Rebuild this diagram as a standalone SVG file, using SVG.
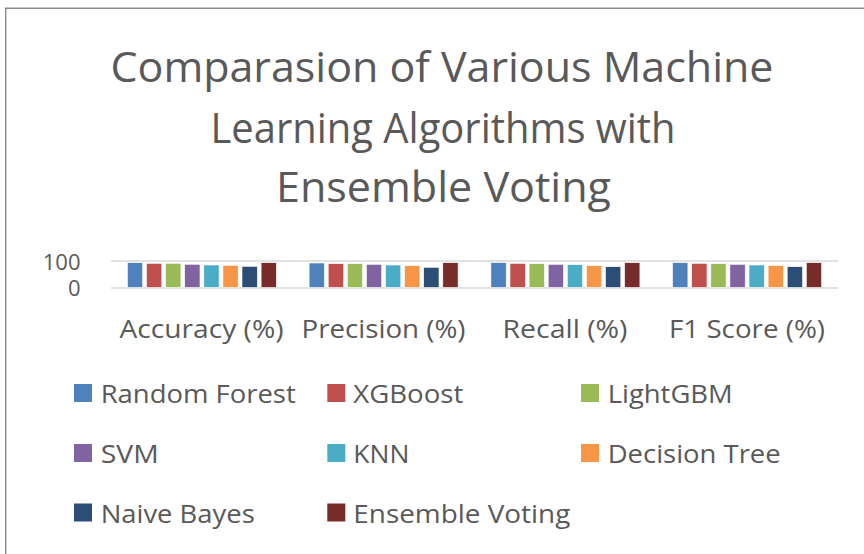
<svg xmlns="http://www.w3.org/2000/svg" width="864" height="554" viewBox="0 0 864 554">
  <style>
    text { font-family: "Open Sans", "Liberation Sans", sans-serif; fill: #595959; }
    .title { font-size: 42px; text-anchor: middle; }
    .cat { font-size: 25px; text-anchor: middle; }
    .tick { font-size: 22px; text-anchor: end; }
    .leg { font-size: 26px; }
    .grid { stroke: #D9D9D9; stroke-width: 1.6; fill: none; }
    .frame { stroke: #898989; stroke-width: 1.4; fill: none; }
    .bar { stroke: #ffffff; stroke-width: 0.6; }
    .rf { fill: #4F81BD; } .xgb { fill: #C0504D; } .lgbm { fill: #9BBB59; } .svm { fill: #8064A2; }
    .knn { fill: #4BACC6; } .dt { fill: #F79646; } .nb { fill: #2C4D75; } .ev { fill: #772C2A; }
  </style>
  <rect width="864" height="554" fill="#ffffff"/>
  <!-- chart frame (left and top edges visible) -->
  <path class="frame" d="M5.7 554 V8.2 H864"/>

  <g id="title">
    <text class="title" x="442" y="81.7" textLength="663" lengthAdjust="spacingAndGlyphs">Comparasion of Various Machine</text>
    <text class="title" x="443" y="142.7" textLength="465" lengthAdjust="spacingAndGlyphs">Learning Algorithms with</text>
    <text class="title" x="443.5" y="201.7" textLength="335" lengthAdjust="spacingAndGlyphs">Ensemble Voting</text>
  </g>

  <g id="axis">
    <line class="grid" x1="111" y1="261" x2="838" y2="261"/>
    <line class="grid" x1="111" y1="288" x2="838" y2="288"/>
    <text class="tick" x="80.5" y="269.5">100</text>
    <text class="tick" x="80.5" y="295.5">0</text>
  </g>

  <g id="series-random-forest" class="bar rf">
    <rect x="127.4" y="262.7" width="15.3" height="24.8"/>
    <rect x="309.1" y="263.0" width="15.3" height="24.5"/>
    <rect x="490.9" y="262.7" width="15.3" height="24.8"/>
    <rect x="672.6" y="262.7" width="15.3" height="24.8"/>
  </g>
  <g id="series-xgboost" class="bar xgb">
    <rect x="146.5" y="263.3" width="15.3" height="24.2"/>
    <rect x="328.2" y="263.7" width="15.3" height="23.8"/>
    <rect x="510.0" y="263.3" width="15.3" height="24.2"/>
    <rect x="691.7" y="263.3" width="15.3" height="24.2"/>
  </g>
  <g id="series-lightgbm" class="bar lgbm">
    <rect x="165.6" y="263.3" width="15.3" height="24.2"/>
    <rect x="347.3" y="263.7" width="15.3" height="23.8"/>
    <rect x="529.1" y="263.7" width="15.3" height="23.8"/>
    <rect x="710.8" y="263.7" width="15.3" height="23.8"/>
  </g>
  <g id="series-svm" class="bar svm">
    <rect x="184.7" y="264.3" width="15.3" height="23.2"/>
    <rect x="366.4" y="264.3" width="15.3" height="23.2"/>
    <rect x="548.2" y="264.3" width="15.3" height="23.2"/>
    <rect x="729.9" y="264.3" width="15.3" height="23.2"/>
  </g>
  <g id="series-knn" class="bar knn">
    <rect x="203.8" y="265.0" width="15.3" height="22.5"/>
    <rect x="385.5" y="265.0" width="15.3" height="22.5"/>
    <rect x="567.3" y="264.7" width="15.3" height="22.8"/>
    <rect x="749.0" y="265.0" width="15.3" height="22.5"/>
  </g>
  <g id="series-decision-tree" class="bar dt">
    <rect x="222.9" y="265.3" width="15.3" height="22.2"/>
    <rect x="404.6" y="265.7" width="15.3" height="21.8"/>
    <rect x="586.4" y="265.7" width="15.3" height="21.8"/>
    <rect x="768.1" y="265.7" width="15.3" height="21.8"/>
  </g>
  <g id="series-naive-bayes" class="bar nb">
    <rect x="242.0" y="266.3" width="15.3" height="21.2"/>
    <rect x="423.7" y="267.3" width="15.3" height="20.2"/>
    <rect x="605.5" y="266.7" width="15.3" height="20.8"/>
    <rect x="787.2" y="266.7" width="15.3" height="20.8"/>
  </g>
  <g id="series-ensemble-voting" class="bar ev">
    <rect x="261.1" y="262.7" width="15.3" height="24.8"/>
    <rect x="442.8" y="262.7" width="15.3" height="24.8"/>
    <rect x="624.6" y="262.7" width="15.3" height="24.8"/>
    <rect x="806.3" y="262.7" width="15.3" height="24.8"/>
  </g>

  <g id="categories">
    <text class="cat" x="201.5" y="338" textLength="164" lengthAdjust="spacingAndGlyphs">Accuracy (%)</text>
    <text class="cat" x="383.5" y="338" textLength="164" lengthAdjust="spacingAndGlyphs">Precision (%)</text>
    <text class="cat" x="565" y="338" textLength="125" lengthAdjust="spacingAndGlyphs">Recall (%)</text>
    <text class="cat" x="747" y="338" textLength="156" lengthAdjust="spacingAndGlyphs">F1 Score (%)</text>
  </g>

  <g id="legend">
    <g id="legend-random-forest"><rect class="rf" x="74" y="384" width="18" height="18"/><text class="leg" x="100.7" y="403.3" textLength="195" lengthAdjust="spacingAndGlyphs">Random Forest</text></g>
    <g id="legend-xgboost"><rect class="xgb" x="327.3" y="384" width="18" height="18"/><text class="leg" x="353.3" y="403.3" textLength="110" lengthAdjust="spacingAndGlyphs">XGBoost</text></g>
    <g id="legend-lightgbm"><rect class="lgbm" x="581" y="384" width="18" height="18"/><text class="leg" x="607.7" y="403.3" textLength="125" lengthAdjust="spacingAndGlyphs">LightGBM</text></g>
    <g id="legend-svm"><rect class="svm" x="74" y="444" width="18" height="18"/><text class="leg" x="100.7" y="463.3" textLength="58" lengthAdjust="spacingAndGlyphs">SVM</text></g>
    <g id="legend-knn"><rect class="knn" x="327.3" y="444" width="18" height="18"/><text class="leg" x="353.3" y="463.3" textLength="56" lengthAdjust="spacingAndGlyphs">KNN</text></g>
    <g id="legend-decision-tree"><rect class="dt" x="581" y="444" width="18" height="18"/><text class="leg" x="607.7" y="463.3" textLength="173" lengthAdjust="spacingAndGlyphs">Decision Tree</text></g>
    <g id="legend-naive-bayes"><rect class="nb" x="74" y="503.5" width="18" height="18"/><text class="leg" x="100.7" y="522.7" textLength="154" lengthAdjust="spacingAndGlyphs">Naive Bayes</text></g>
    <g id="legend-ensemble-voting"><rect class="ev" x="327.3" y="503.5" width="18" height="18"/><text class="leg" x="353.3" y="522.7" textLength="217" lengthAdjust="spacingAndGlyphs">Ensemble Voting</text></g>
  </g>
</svg>
